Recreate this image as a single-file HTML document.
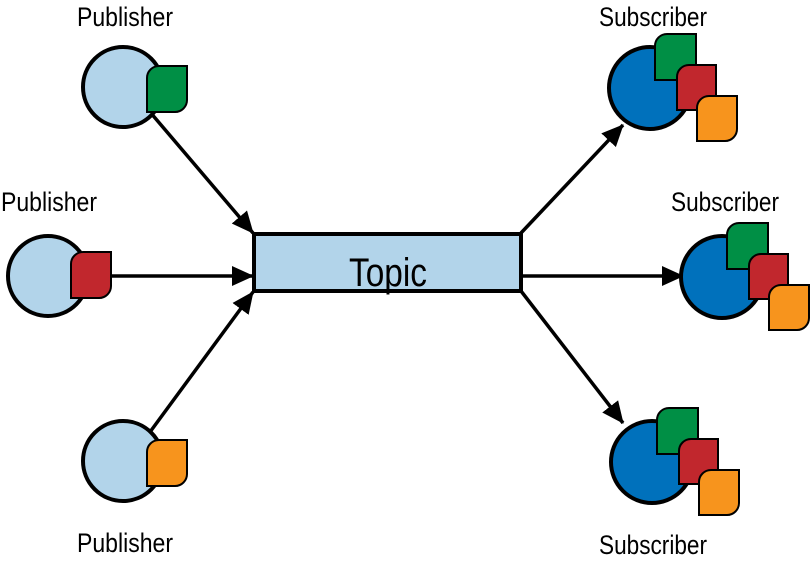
<!DOCTYPE html>
<html><head><meta charset="utf-8"><style>
html,body{margin:0;padding:0;background:#fff;}
</style></head><body>
<svg width="811" height="568" viewBox="0 0 811 568" xmlns="http://www.w3.org/2000/svg" font-family="Liberation Sans, sans-serif">
<defs>
<marker id="a" viewBox="0 0 22 22" refX="21" refY="11" markerWidth="22" markerHeight="22" orient="auto" markerUnits="userSpaceOnUse">
<path d="M0,1 L22,11 L0,21 z" fill="#000"/>
</marker>
</defs>
<g stroke="#000" stroke-width="3.5" fill="none">
<line x1="150" y1="112" x2="253" y2="233" marker-end="url(#a)"/>
<line x1="112" y1="276" x2="253" y2="276" marker-end="url(#a)"/>
<line x1="150" y1="432" x2="253" y2="292" marker-end="url(#a)"/>
<line x1="521" y1="233" x2="623" y2="125" marker-end="url(#a)"/>
<line x1="521" y1="276" x2="683" y2="276" marker-end="url(#a)"/>
<line x1="521" y1="291" x2="623" y2="423" marker-end="url(#a)"/>
</g>
<rect x="254" y="234" width="267" height="57" fill="#b2d4ea" stroke="#000" stroke-width="4"/>
<text x="388" y="286" font-size="40" text-anchor="middle" textLength="78" lengthAdjust="spacingAndGlyphs">Topic</text>

<g stroke="#000" stroke-width="4" fill="#b2d4ea">
<circle cx="123" cy="87" r="40"/>
<circle cx="48" cy="276" r="40"/>
<circle cx="123" cy="461" r="40"/>
</g>
<g stroke="#000" stroke-width="2">
<path d="M159,66 H187 V100 A12,12 0 0 1 175,112 H147 V78 A12,12 0 0 1 159,66 Z" fill="#008f45"/>
<path d="M83,252 H111 V286 A12,12 0 0 1 99,298 H71 V264 A12,12 0 0 1 83,252 Z" fill="#c1272d"/>
<path d="M159,440 H187 V474 A12,12 0 0 1 175,486 H147 V452 A12,12 0 0 1 159,440 Z" fill="#f7941d"/>
</g>

<g id="s1">
<circle cx="650" cy="88" r="41" fill="#0071bc" stroke="#000" stroke-width="4"/>
<g stroke="#000" stroke-width="2">
<path d="M667,34 H696 V80 H655 V46 A12,12 0 0 1 667,34 Z" fill="#008f45"/>
<path d="M689,65 H716 V110 H677 V77 A12,12 0 0 1 689,65 Z" fill="#c1272d"/>
<path d="M709,96 H737 V129 A12,12 0 0 1 725,141 H697 V108 A12,12 0 0 1 709,96 Z" fill="#f7941d"/>
</g>
</g>
<use href="#s1" transform="translate(72,189)"/>
<use href="#s1" transform="translate(2,374)"/>

<g font-size="27" text-anchor="middle" fill="#000">
<text x="125" y="26" textLength="96" lengthAdjust="spacingAndGlyphs">Publisher</text>
<text x="49" y="211" textLength="96" lengthAdjust="spacingAndGlyphs">Publisher</text>
<text x="125" y="552" textLength="96" lengthAdjust="spacingAndGlyphs">Publisher</text>
<text x="653" y="26" textLength="108" lengthAdjust="spacingAndGlyphs">Subscriber</text>
<text x="725" y="211" textLength="108" lengthAdjust="spacingAndGlyphs">Subscriber</text>
<text x="653" y="554" textLength="108" lengthAdjust="spacingAndGlyphs">Subscriber</text>
</g>
</svg>
</body></html>
